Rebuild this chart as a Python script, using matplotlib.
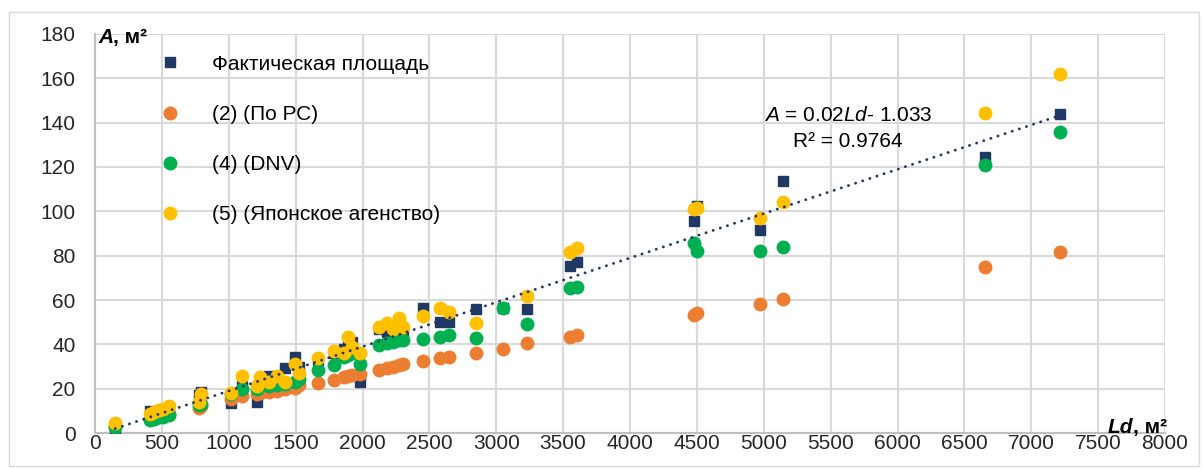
import numpy as np
import matplotlib
matplotlib.use("Agg")
import matplotlib.pyplot as plt
from matplotlib.patches import Rectangle

plt.rcParams['font.family'] = ['Liberation Sans', 'DejaVu Sans']
plt.rcParams['mathtext.fontset'] = 'custom'
plt.rcParams['mathtext.rm'] = 'Liberation Sans'
plt.rcParams['mathtext.it'] = 'Liberation Sans:italic'
plt.rcParams['mathtext.bf'] = 'Liberation Sans:bold'

# Ld, м2 для каждого судна
ld = [150, 410, 440, 480, 510, 550, 780, 795, 1020, 1100,
      1210, 1230, 1300, 1360, 1420, 1495, 1525, 1665, 1785, 1860,
      1890, 1920, 1980, 2120, 2180, 2230, 2270, 2300, 2450, 2580,
      2650, 2850, 3050, 3230, 3550, 3600, 4480, 4500, 4970, 5145,
      6655, 7215]

fact = [1.5, 10, 9.5, 10, 9, 10.5, 17, 18.5, 13.5, 21,
        14, 24, 25.5, 24, 29.5, 34.5, 30, 33, 36, 38,
        40, 41, 23.2, 47, 45.5, 44, 48.8, 46, 56.3, 50,
        50.3, 56, 56.5, 55.9, 75.5, 77, 95.8, 102.5, 91.4, 113.8,
        124.7, 144]

pc = [2.5, 6.5, 7, 7.5, 8, 8.5, 11.5, 12, 15.5, 16.5,
      17.5, 18, 18.5, 19, 20, 20.5, 21.5, 22.6, 23.8, 25.4,
      25.8, 26, 26.5, 28.5, 29.4, 30, 30.5, 31, 32.5, 33.7,
      34.5, 36, 37.9, 40.8, 43.5, 44.2, 53.4, 54, 58.1, 60.5,
      75, 81.7]

dnv = [2.8, 6.0, 6.5, 7, 7, 8, 12.5, 13, 17.5, 20,
       20, 21, 21, 21.5, 22, 23, 24.5, 28.5, 30.7, 34.5,
       35, 36, 31.2, 39.7, 40.5, 41.2, 41.8, 42, 42.3, 43.5,
       44.3, 42.8, 56.3, 49.2, 65.5, 66, 85.5, 82, 81.9, 83.9,
       121, 135.6]

jap = [4.7, 8.5, 9.6, 10.4, 10.8, 12, 14, 17.8, 18, 25.7,
       21, 25.4, 23, 25.5, 23.2, 31, 27, 33.7, 37.2, 36,
       43.5, 39, 36.2, 48, 49.5, 47, 51.8, 48, 53, 56.3,
       54.8, 49.8, np.nan, 61.6, 81.5, 83.5, 101, 101.5, 97, 104.2,
       144.5, 162]

# линия тренда (по фактической площади)
slope = 0.02
intercept = -1.033
r2 = 0.9764

navy = '#203864'
orange = '#ED7D31'
green = '#00B050'
gold = '#FFC000'
fs = 15

fig = plt.figure(figsize=(12.03, 4.69), dpi=100)
fig.patches.append(Rectangle((9 / 1203, 3 / 469), 1190 / 1203, 454 / 469,
                             transform=fig.transFigure, fill=False,
                             edgecolor='#D9D9D9', linewidth=1))
ax = fig.add_axes([95 / 1203, 36 / 469, 1070 / 1203, 399 / 469])

ax.plot(ld, fact, 's', color=navy, markersize=7, label='Фактическая площадь', zorder=3)
ax.plot(ld, pc, 'o', color=orange, markersize=9, label='(2) (По РС)', zorder=3)
ax.plot(ld, dnv, 'o', color=green, markersize=9, label='(4) (DNV)', zorder=3)
ax.plot(ld, jap, 'o', color=gold, markersize=9, label='(5) (Японское агенство)', zorder=3)

xt = np.array([min(ld), max(ld)])
ax.plot(xt, slope * xt + intercept, color=navy, linewidth=2,
        linestyle=(0, (0.1, 2.6)), dash_capstyle='round', zorder=4)

ax.set_xlim(0, 8000)
ax.set_ylim(0, 180)
ax.set_xticks(np.arange(0, 8001, 500))
ax.set_yticks(np.arange(0, 181, 20))
ax.grid(True, color='#D9D9D9', linewidth=1.5)
ax.set_axisbelow(True)
for s in ['top', 'right']:
    ax.spines[s].set_visible(False)
for s in ['left', 'bottom']:
    ax.spines[s].set_color('#BFBFBF')
    ax.spines[s].set_linewidth(1.5)
ax.tick_params(length=0, labelsize=fs, colors='#262626')
ax.tick_params(axis='y', pad=14)
ax.tick_params(axis='x', pad=1)

# подписи осей
ta = ax.text(0.003, 0.99, 'A', transform=ax.transAxes, fontsize=fs,
             fontweight='bold', fontstyle='italic', va='center', ha='left')
ax.annotate(', м²', xy=(1, 0), xycoords=ta, va='bottom', ha='left',
            fontsize=fs, fontweight='bold')
tl = ax.text(0.946, 0.015, 'Ld', transform=ax.transAxes, fontsize=fs,
             fontweight='bold', fontstyle='italic', va='center', ha='left')
ax.annotate(', м²', xy=(1, 0), xycoords=tl, va='bottom', ha='left',
            fontsize=fs, fontweight='bold')

ax.text(5630, 137.5, '$A$ = %.2f$Ld$- %.3f\nR² = %.4f' % (slope, -intercept, r2),
        fontsize=fs, ha='center', va='center', multialignment='center',
        linespacing=1.45)

leg = ax.legend(loc='upper left', bbox_to_anchor=(0.045, 0.995), frameon=False,
                fontsize=fs, labelspacing=1.5, handlelength=0.8,
                handletextpad=1.6)

fig.savefig('out.png', dpi=100)
